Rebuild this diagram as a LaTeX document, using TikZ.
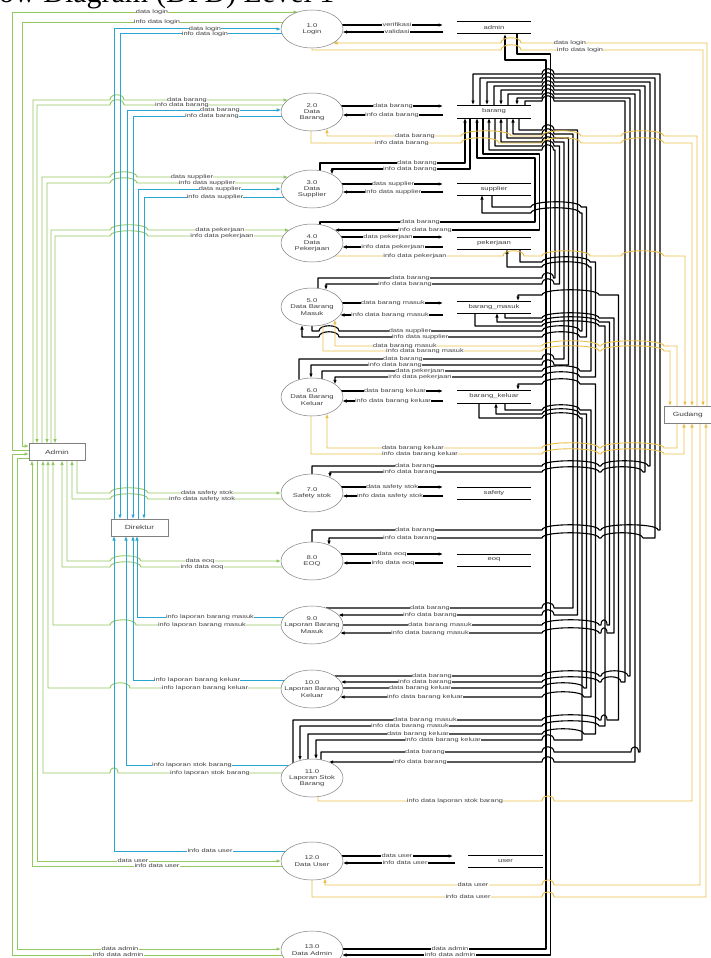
\documentclass[tikz,border=0pt]{standalone}
\usepackage{fontspec}
\setmainfont{Liberation Serif}
\setsansfont{Liberation Sans}
\newfontfamily\pfont[FakeStretch=1.4]{Liberation Sans}
\usetikzlibrary{arrows.meta,shapes.geometric}
\definecolor{gl}{RGB}{146,200,96}
\definecolor{bl}{RGB}{40,165,210}
\definecolor{yl}{RGB}{236,190,70}
\newcommand\hp[3]{-- (#1,#3) .. controls (#1,#3-7) and (#2,#3-7) .. (#2,#3)}
\tikzset{
  proc/.style={ellipse,draw=black!50,line width=0.5pt,fill=white,minimum width=62pt,minimum height=38pt,inner sep=0pt},
  ptx/.style={align=center,inner sep=0pt,font=\pfont\fontsize{5.5}{6.3}\selectfont,text=black!75},
  ext/.style={draw=black!50,line width=0.5pt,fill=white,minimum height=17pt,inner sep=0pt,font=\pfont\fontsize{6}{6}\selectfont,text=black!75},
  sto/.style={inner sep=0pt,font=\pfont\fontsize{5.5}{6}\selectfont,text=black!75},
  stl/.style={line width=1pt,black},
  lb/.style={fill=white,inner sep=0.2pt,font=\pfont\fontsize{5.3}{5.3}\selectfont,text=black!75},
  bk/.style={line width=1.1pt,black,line join=round},
  gn/.style={line width=0.9pt,gl},
  bu/.style={line width=1pt,bl},
  yw/.style={line width=0.9pt,yl},
  ar/.style={-{Latex[length=4.5pt,width=3.6pt]}},
}
\begin{document}
\begin{tikzpicture}[x=1pt,y=-1pt]
\useasboundingbox (0,0) rectangle (711,958);
\clip (0,0) rectangle (711,958);
\fill[white] (0,0) rectangle (711,958);

% title (cut off at the top)
\node[anchor=base east,inner sep=0pt,font=\fontsize{30}{30}\selectfont] (t1) at (148.5,3) {Data Flow Diagram};
\node[anchor=base west,inner sep=0pt,font=\fontsize{30}{30}\selectfont] (t2) at (156,3) {(DFD) Level 1};

% ---------------- stores
\draw[stl] (457,22) -- (531,22) (457,34) -- (531,34);
\node[sto] (sadmin) at (494,28) {admin};
\draw[stl] (457,105) -- (531,105) (457,118) -- (531,118);
\node[sto] (sbarang) at (494,111.5) {barang};
\draw[stl] (457,183) -- (531,183) (457,195) -- (531,195);
\node[sto] (ssupp) at (494,189) {supplier};
\draw[stl] (457,237) -- (531,237) (457,249) -- (531,249);
\node[sto] (spek) at (494,243) {pekerjaan};
\draw[stl] (457,301) -- (531,301) (457,313) -- (531,313);
\node[sto] (smasuk) at (494,307) {barang\_masuk};
\draw[stl] (457,390) -- (531,390) (457,403) -- (531,403);
\node[sto] (skeluar) at (494,396.5) {barang\_keluar};
\draw[stl] (457,487) -- (531,487) (457,499) -- (531,499);
\node[sto] (ssafety) at (494,493) {safety};
\draw[stl] (457,554) -- (531,554) (457,566) -- (531,566);
\node[sto] (seoq) at (494,560) {eoq};
\draw[stl] (468,855) -- (543,855) (468,867) -- (543,867);
\node[sto] (suser) at (505.5,861) {user};

% ---------------- own store flows
\draw[bk,ar] (342.3,25) -- (443,25);
\draw[bk,ar] (443,32) -- (342.6,32);
\draw[bk,ar] (341.4,106) -- (443,106);
\draw[bk,ar] (443,115) -- (342.6,115);
\draw[bk,ar] (341.9,184) -- (443,184);
\draw[bk,ar] (443,192) -- (342.6,192);
\draw[bk,ar] (341.4,237) -- (443,237);
\draw[bk,ar] (443,247) -- (342.3,247);
\draw[bk,ar] (342.3,303) -- (443,303);
\draw[bk,ar] (443,315) -- (340.1,315);
\draw[bk,ar] (341.4,391) -- (443,391);
\draw[bk,ar] (443,401) -- (342.3,401);
\draw[bk,ar] (341.4,487) -- (443,487);
\draw[bk,ar] (443,496) -- (342.6,496);
\draw[bk,ar] (340.8,554) -- (443,554);
\draw[bk,ar] (443,563) -- (342.8,563);
\draw[bk,ar] (341.9,856) -- (453,856);
\draw[bk,ar] (455,863) -- (342.8,863);

% ---------------- black cross flows
% P3
\draw[bk,ar] (320,170.6) -- (320,163) -- (465,163) -- (465,118);
\draw[bk,ar] (470,118) -- (470,169) -- (332,169) -- (332,174.5);
% P4
\draw[bk,ar] (320,224.6) -- (320,222) -- (535,222) -- (535,158) -- (477,158) -- (477,118);
\draw[bk,ar] (483,118) -- (483,154) -- (539.5,154) -- (539.5,230) -- (334.6,230);
% P5 barang
\draw[bk,ar] (318,288.4) -- (318,278) \hp{542}{553.5}{278} -- (555,278) -- (555,150) \hp{553.5}{542}{150} -- (489,150) -- (489,118);
\draw[bk,ar] (495,118) -- (495,146) \hp{542}{554}{146} -- (559.5,146) -- (559.5,284) \hp{554}{542}{284} -- (326,284) -- (326,290);
% P5 supplier
\draw[bk,ar] (312,326) -- (312,331) \hp{319}{339}{331} \hp{542}{580}{331} -- (582,331) -- (582,213) \hp{580}{531}{213} -- (482,213) -- (482,195);
\draw[bk,ar] (492,195) -- (492,207) \hp{531}{581}{207} -- (586.5,207) -- (586.5,337) \hp{580}{542}{337} \hp{339}{319}{337} -- (302,337) -- (302,325);
% P6 barang
\draw[bk,ar] (299,379.7) -- (299,359) \hp{542}{554}{359} -- (564,359) -- (564,142) \hp{554}{542}{142} -- (501,142) -- (501,118);
\draw[bk,ar] (507,118) -- (507,138) \hp{542}{554}{138} -- (568.5,138) -- (568.5,365) \hp{554}{542}{365} -- (311,365) -- (311,378);
% P6 pekerjaan
\draw[bk,ar] (322,379) -- (322,371) \hp{542}{580}{371} -- (591,371) -- (591,267) \hp{589}{542}{267} -- (507,267) -- (507,249);
\draw[bk,ar] (520,249) -- (520,262) \hp{542}{590}{262} -- (595.5,262) -- (595.5,377) \hp{580}{542}{377} -- (335,377) -- (335,384.3);
% P9 barang
\draw[bk,ar] (326,608) \hp{542}{554}{608} -- (573,608) -- (573,134) \hp{554}{542}{134} -- (513,134) -- (513,118);
\draw[bk,ar] (519,118) -- (519,130) \hp{542}{554}{130} -- (577.5,130) -- (577.5,615) \hp{554}{542}{615} -- (338.4,615);
% P7
\draw[bk,ar] (312,474) -- (312,466) \hp{542}{599}{466} \hp{601}{648}{466} -- (650,466) -- (650,82) \hp{554}{542}{82} -- (487,82) -- (487,105);
\draw[bk,ar] (494,105) -- (494,86) \hp{542}{554}{86} -- (645,86) -- (645,472) \hp{643}{601}{472} \hp{599}{542}{472} -- (330,472) -- (330,477.5);
% P8
\draw[bk,ar] (312,542) -- (312,530) \hp{542}{599}{530} \hp{601}{658}{530} -- (660,530) -- (660,74) \hp{554}{542}{74} -- (473,74) -- (473,105);
\draw[bk,ar] (480,105) -- (480,78) \hp{542}{554}{78} -- (655,78) -- (655,538) \hp{643}{601}{538} \hp{599}{542}{538} -- (329,538) -- (329,545.1);
% P10 barang
\draw[bk,ar] (334.6,676) \hp{542}{599}{676} \hp{601}{628}{676} -- (630,676) -- (630,98) \hp{554}{542}{98} -- (517,98) -- (517,105);
\draw[bk,ar] (525,105) -- (525,101) \hp{542}{554}{101} -- (625,101) -- (625,682) \hp{621}{601}{682} \hp{599}{542}{682} -- (340.8,682);
% P10 keluar
\draw[bk,ar] (343,688) \hp{542}{584}{688} -- (586.5,688) -- (586.5,414) \hp{580}{542}{414} -- (496,414) -- (496,403);
\draw[bk,ar] (505,403) -- (505,410) \hp{542}{580}{410} -- (591,410) -- (591,697) \hp{584}{542}{697} -- (340.1,697);
% P9 masuk
\draw[bk,ar] (343,625) \hp{542}{599}{625} \hp{601}{607}{625} -- (609.5,625) -- (609.5,322) \hp{599}{542}{322} -- (497,322) -- (497,313);
\draw[bk,ar] (505,313) -- (505,318) \hp{542}{599}{318} -- (614,318) -- (614,633) \hp{607}{601}{633} \hp{599}{542}{633} -- (340.1,633);
% P11 masuk
\draw[bk,ar] (475,313) -- (475,326) \hp{542}{599}{326} -- (605,326) -- (605,726) \hp{599}{542}{726} -- (300,726) -- (300,760.5);
\draw[bk,ar] (293,763) -- (293,720) \hp{542}{599}{720} \hp{601}{607}{720} -- (618.5,720) -- (618.5,295) \hp{599}{542}{295} -- (518,295) -- (518,301);
% P11 keluar
\draw[bk,ar] (479,403) -- (479,418) \hp{542}{580}{418} -- (582,418) -- (582,740) \hp{554}{542}{740} -- (316,740) -- (316,759.2);
\draw[bk,ar] (308,759.2) -- (308,734) \hp{542}{584}{734} -- (595.5,734) -- (595.5,384) \hp{580}{542}{384} -- (518,384) -- (518,390);
% P11 barang
\draw[bk,ar] (321,759.8) -- (321,752) \hp{542}{554}{752} \hp{631}{638.5}{752} -- (640,752) -- (640,90) \hp{554}{542}{90} -- (501,90) -- (501,105);
\draw[bk,ar] (508,105) -- (508,94) \hp{542}{554}{94} -- (635,94) -- (635,762) \hp{554}{542}{762} -- (328.7,762);
% P13 admin
\draw[bk,ar] (343,949) -- (546,949) -- (546,60) -- (505,60) -- (505,34);
\draw[bk,ar] (517,34) -- (517,54) -- (550.5,54) -- (550.5,955) -- (342,955);

% ---------------- yellow (Gudang)
\draw[yw,ar] (707,406) -- (707,43) \hp{521}{501}{43} -- (333,43);
\draw[yw,ar] (312,48) -- (312,50) \hp{501}{521}{50} -- (703,50) -- (703,406);
\draw[yw,ar] (697,406) -- (697,136) \hp{664}{621}{136} \hp{581}{542}{136} \hp{511}{461}{136} -- (327,136) -- (327,128.6);
\draw[yw,ar] (311,131) -- (311,143) \hp{461}{499}{143} \hp{542}{581}{143} \hp{621}{664}{143} -- (692,143) -- (692,406);
\draw[yw,ar] (334.6,256) \hp{503}{524}{256} \hp{542}{590}{256} \hp{621}{664}{256} -- (685,256) -- (685,406);
\draw[yw,ar] (677,406) -- (677,346) \hp{664}{601}{346} \hp{599}{542}{346} -- (335,346) -- (335,319.7);
\draw[yw,ar] (323,324.8) -- (323,351) \hp{542}{599}{351} \hp{601}{664}{351} -- (670,351) -- (670,406);
\draw[yw,ar] (677,423) -- (677,448) \hp{664}{601}{448} \hp{599}{542}{448} -- (327,448) -- (327,413.6);
\draw[yw,ar] (311,416) -- (311,454) \hp{542}{599}{454} \hp{601}{664}{454} -- (684,454) -- (684,423);
\draw[yw,ar] (318,796.6) -- (318,801) \hp{542}{554}{801} -- (692,801) -- (692,423);
\draw[yw,ar] (700,423) -- (700,885) \hp{554}{542}{885} -- (325,885) -- (325,878.3);
\draw[yw,ar] (312,880) -- (312,897) \hp{542}{554}{897} -- (706,897) -- (706,423);

% ---------------- green (Admin)
\draw[gn,ar] (29,450) -- (12,450) -- (12,12) -- (298,12);
\draw[gn,ar] (283.2,22) -- (22,22) -- (22,446) -- (29,446);
\draw[gn,ar] (33,443.5) -- (33,100) \hp{110}{124}{100} -- (288,100);
\draw[gn,ar] (283.2,105) \hp{124}{110}{105} -- (37,105) -- (37,443.5);
\draw[gn,ar] (42,443.5) -- (42,177) \hp{110}{137}{177} -- (288,177);
\draw[gn,ar] (282.6,183) \hp{137}{110}{183} -- (47,183) -- (47,443.5);
\draw[gn,ar] (51,443.5) -- (51,230) \hp{110}{148}{230} -- (289.4,230);
\draw[gn,ar] (283.2,236) \hp{148}{110}{236} -- (55,236) -- (55,443.5);
\draw[gn,ar] (77,460.5) -- (77,493) \hp{110}{148}{493} -- (281,493);
\draw[gn,ar] (282.6,499) \hp{148}{110}{499} -- (72,499) -- (72,460.5);
\draw[gn,ar] (67,460.5) -- (67,561) \hp{110}{141}{561} -- (281,561);
\draw[gn,ar] (282.6,567) \hp{141}{110}{567} -- (62,567) -- (62,460.5);
\draw[gn,ar] (281,625) \hp{136}{110}{625} -- (53,625) -- (53,460.5);
\draw[gn,ar] (281,688) \hp{130}{110}{688} -- (48,688) -- (48,460.5);
\draw[gn,ar] (282.1,773) \hp{118}{110}{773} -- (43,773) -- (43,460.5);
\draw[gn,ar] (37,460.5) -- (37,861) -- (281,861);
\draw[gn,ar] (282.1,866) -- (32,866) -- (32,460.5);
\draw[gn,ar] (29,458) -- (17,458) -- (17,949) -- (281,949);
\draw[gn,ar] (282.1,955) -- (12,955) -- (12,454) -- (29,454);

% ---------------- blue (Direktur)
\draw[bu,ar] (114,519) -- (114,29) -- (281,29);
\draw[bu,ar] (282.1,34) -- (120,34) -- (120,519);
\draw[bu,ar] (127,519) -- (127,110) -- (281.2,110);
\draw[bu,ar] (281.7,116) -- (133,116) -- (133,519);
\draw[bu,ar] (138,519) -- (138,189) -- (281,189);
\draw[bu,ar] (283.9,197) -- (144,197) -- (144,519);
\draw[bu,ar] (283.9,617) -- (137,617) -- (137,536);
\draw[bu,ar] (284.7,680) -- (133,680) -- (133,536);
\draw[bu,ar] (289.4,765) -- (126,765) -- (126,536);
\draw[bu,ar] (285.6,851) -- (114,851) -- (114,536);

% ---------------- processes and externals
\node[proc] (p1) at (312,29) {};
\node[proc] (p2) at (312,112) {};
\node[proc] (p3) at (312,189) {};
\node[proc] (p4) at (312,243) {};
\node[proc] (p5) at (312,307) {};
\node[proc] (p6) at (312,397) {};
\node[proc] (p7) at (312,493) {};
\node[proc] (p8) at (312,561) {};
\node[proc] (p9) at (312,625) {};
\node[proc] (p10) at (312,689) {};
\node[proc] (p11) at (312,778) {};
\node[proc] (p12) at (312,861) {};
\node[proc] (p13) at (312,950) {};
\node[ptx] (p1t) at (p1) {1.0\\Login};
\node[ptx] (p2t) at (p2) {2.0\\Data\\Barang};
\node[ptx] (p3t) at (p3) {3.0\\Data\\Supplier};
\node[ptx] (p4t) at (p4) {4.0\\Data\\Pekerjaan};
\node[ptx] (p5t) at (p5) {5.0\\Data Barang\\Masuk};
\node[ptx] (p6t) at (p6) {6.0\\Data Barang\\Keluar};
\node[ptx] (p7t) at (p7) {7.0\\Safety stok};
\node[ptx] (p8t) at (p8) {8.0\\EOQ};
\node[ptx] (p9t) at (p9) {9.0\\Laporan Barang\\Masuk};
\node[ptx] (p10t) at (p10) {10.0\\Laporan Barang\\Keluar};
\node[ptx] (p11t) at (p11) {11.0\\Laporan Stok\\Barang};
\node[ptx] (p12t) at (p12) {12.0\\Data User};
\node[ptx] (p13t) at (p13) {13.0\\Data Admin};
\node[ext,minimum width=56pt] (adm) at (57,452) {Admin};
\node[ext,minimum width=57pt] (dir) at (139.5,527.5) {Direktur};
\node[ext,minimum width=52pt,anchor=west] (gud) at (664,414.5) {\hspace*{-5pt}Gudang};

% ---------------- labels
% green
\node[lb] at (152,12) {data login};
\node[lb] at (157,22) {info data login};
\node[lb] at (187,100) {data barang};
\node[lb] at (182,105) {info data barang};
\node[lb] at (192,177) {data supplier};
\node[lb] at (207,183) {info data supplier};
\node[lb] at (220,230) {data pekerjaan};
\node[lb] at (222,236) {info data pekerjaan};
\node[lb] at (207,493) {data safety stok};
\node[lb] at (202,499) {info data safety stok};
\node[lb] at (200,561) {data eoq};
\node[lb] at (202,567) {info data eoq};
\node[lb] at (202,625) {info laporan barang masuk};
\node[lb] at (205,688) {info laporan barang keluar};
\node[lb] at (210,773) {info laporan stok barang};
\node[lb] at (133,861) {data user};
\node[lb] at (157,866) {info data user};
\node[lb] at (120,949) {data admin};
\node[lb] at (118,955) {info data admin};
% blue
\node[lb] at (205,29) {data login};
\node[lb] at (205,34) {info data login};
\node[lb] at (220,110) {data barang};
\node[lb] at (212,116) {info data barang};
\node[lb] at (220,189) {data supplier};
\node[lb] at (215,197) {info data supplier};
\node[lb] at (210,617) {info laporan barang masuk};
\node[lb] at (197,680) {info laporan barang keluar};
\node[lb] at (192,765) {info laporan stok barang};
\node[lb] at (210,851) {info data user};
% yellow
\node[lb] at (570,43) {data login};
\node[lb] at (580,50) {info data login};
\node[lb] at (415,136) {data barang};
\node[lb] at (402,143) {info data barang};
\node[lb] at (415,256) {info data pekerjaan};
\node[lb] at (405,346) {data barang masuk};
\node[lb] at (425,351) {info data barang masuk};
\node[lb] at (413,448) {data barang keluar};
\node[lb] at (420,454) {info data barang keluar};
\node[lb] at (455,801) {info data laporan stok barang};
\node[lb] at (473,885) {data user};
\node[lb] at (468,897) {info data user};
% black
\node[lb] at (397,25) {verifikasi};
\node[lb] at (397,32) {validasi};
\node[lb] at (393,106) {data barang};
\node[lb] at (392,115) {info data barang};
\node[lb] at (417,163) {data barang};
\node[lb] at (410,169) {info data barang};
\node[lb] at (393,184) {data supplier};
\node[lb] at (393,192) {info data supplier};
\node[lb] at (420,222) {data barang};
\node[lb] at (425,230) {info data barang};
\node[lb] at (388,237) {data pekerjaan};
\node[lb] at (393,247) {info data pekerjaan};
\node[lb] at (410,278) {data barang};
\node[lb] at (405,284) {info data barang};
\node[lb] at (393,303) {data barang masuk};
\node[lb] at (390,315) {info data barang masuk};
\node[lb] at (410,331) {data supplier};
\node[lb] at (420,337) {info data supplier};
\node[lb] at (403,359) {data barang};
\node[lb] at (395,365) {info data barang};
\node[lb] at (420,371) {data pekerjaan};
\node[lb] at (420,377) {info data pekerjaan};
\node[lb] at (395,391) {data barang keluar};
\node[lb] at (393,401) {info data barang keluar};
\node[lb] at (415,466) {data barang};
\node[lb] at (410,472) {info data barang};
\node[lb] at (392,487) {data safety stok};
\node[lb] at (390,496) {info data safety stok};
\node[lb] at (415,530) {data barang};
\node[lb] at (410,538) {info data barang};
\node[lb] at (392,554) {data eoq};
\node[lb] at (393,563) {info data eoq};
\node[lb] at (430,608) {data barang};
\node[lb] at (430,615) {info data barang};
\node[lb] at (440,625) {data barang masuk};
\node[lb] at (430,633) {info data barang masuk};
\node[lb] at (432,676) {data barang};
\node[lb] at (425,682) {info data barang};
\node[lb] at (420,688) {data barang keluar};
\node[lb] at (425,697) {info data barang keluar};
\node[lb] at (425,720) {data barang masuk};
\node[lb] at (410,726) {info data barang masuk};
\node[lb] at (418,734) {data barang keluar};
\node[lb] at (443,740) {info data barang keluar};
\node[lb] at (425,752) {data barang};
\node[lb] at (420,762) {info data barang};
\node[lb] at (397,856) {data user};
\node[lb] at (405,863) {info data user};
\node[lb] at (450,949) {data admin};
\node[lb] at (450,955) {info data admin};
\end{tikzpicture}
\end{document}
